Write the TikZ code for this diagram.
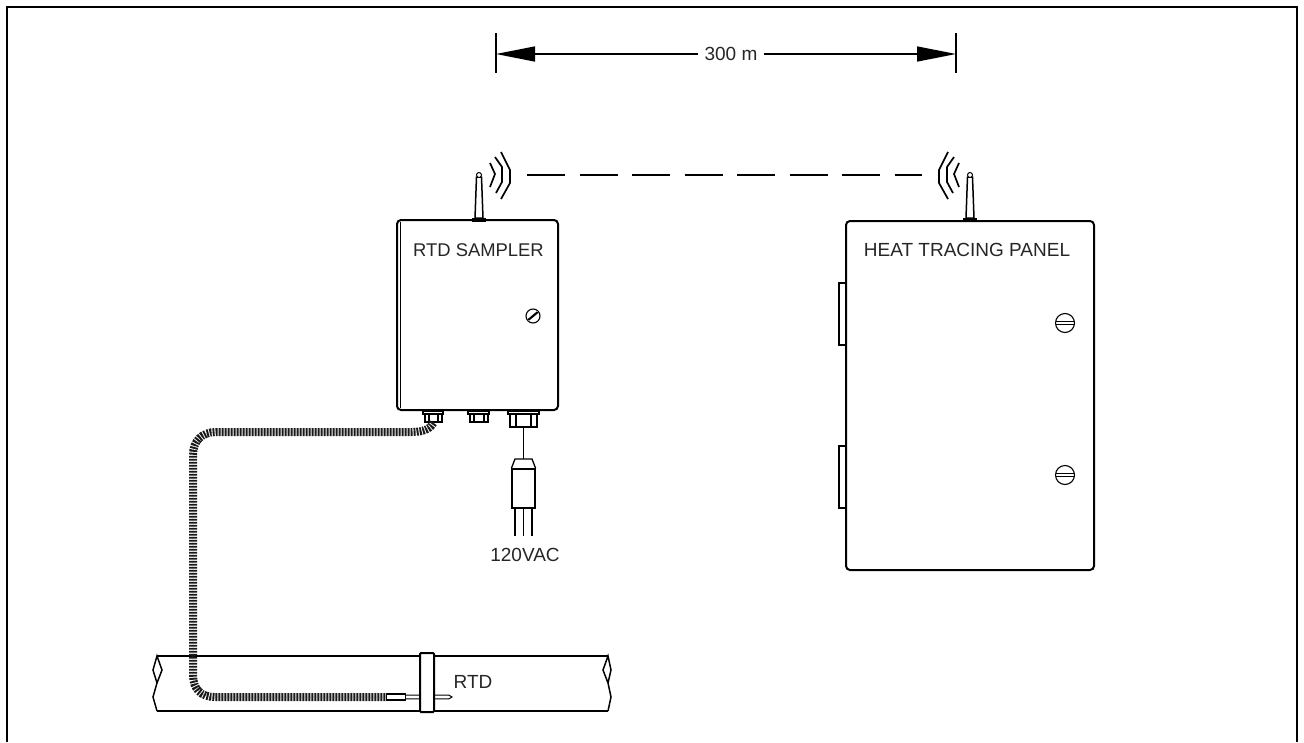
\documentclass[tikz,border=0pt]{standalone}
\usepackage{fontspec}
\setmainfont{Liberation Sans}
\usetikzlibrary{arrows.meta,positioning,calc}
\tikzset{
  box/.style={draw,line width=2pt,rounded corners=4pt,inner sep=0pt,fill=white},
  lbl/.style={font=\fontsize{19}{22}\selectfont,inner sep=0pt,text=black!85},
  gland/.style={draw,line width=1.7pt,inner sep=0pt,fill=white},
  hinge/.style={draw,line width=1.7pt,inner sep=0pt,fill=white,minimum width=7,minimum height=62},
  screw/.style={draw,circle,line width=1.1pt,inner sep=0pt,fill=white},
  arr/.style={line width=1.6pt,{Triangle[length=39pt,width=15pt]}-},
  tick/.style={line width=1.3pt},
  wave/.style={line width=1.7pt},
  link/.style={line width=1.8pt,dash pattern=on 38pt off 14.5pt},
  wire/.style={line width=1.8pt},
  conduit/.style={line width=8pt,black!90,dash pattern=on 1.9pt off 1.1pt,preaction={draw,solid,black!35}}
}
\begin{document}
\begin{tikzpicture}[x=1pt,y=-1pt]
\useasboundingbox (0,0) rectangle (1304,742);
\draw[line width=2.2pt] (7,742)--(7,7)--(1297,7)--(1297,742);
% pipe
\draw[line width=1.8pt] (157,656)--(608,656) (157,711)--(608,711);
\draw[line width=1.5pt] (157,656)--(162,670)--(157,683)--(153,670)--cycle (157,683)--(153,697)--(157,711);
\draw[line width=1.5pt] (608,656)--(603,670)--(608,683)--(611,670)--cycle (608,683)--(611,697)--(608,711);
% boxes
\node[hinge] (hingeA) at (842.5,314) {};
\node[hinge] (hingeB) at (842.5,477) {};
\node[box,minimum width=248,minimum height=349] (panel) at (970,395.5) {};
\node[box,minimum width=161,minimum height=190] (sampler) at (477.5,315) {};
\draw[line width=1.3pt] (400.5,222)--(400.5,408);
\node[lbl,font=\fontsize{18.4}{22}\selectfont] (samplertxt) at (478.5,250) {RTD SAMPLER};
\node[lbl] (paneltxt) at (967,250) {HEAT TRACING PANEL};
\node[screw,minimum size=14] (knob) at (533,316) {};
\draw[line width=1.1pt] ($(knob)+(-4,4)$)--($(knob)+(5,-3.5)$) ($(knob)+(-5,3.5)$)--($(knob)+(4,-4)$);
\foreach \n/\y in {screwA/323,screwB/475}{
  \node[screw,minimum size=19] (\n) at (1065,\y) {};
  \draw[line width=1.1pt] ($(\n)+(-9,-1.7)$)--($(\n)+(9,-1.7)$) ($(\n)+(-9,1.7)$)--($(\n)+(9,1.7)$);
}
% antennas
\foreach \n/\x in {antL/479,antR/970}{
  \node[draw,fill=black,minimum width=13,minimum height=3,inner sep=0pt] (\n) at (\x,219.5) {};
  \draw[line width=1.5pt,fill=white] (\x-2.5,177)--(\x+2.5,177)--(\x+4,218)--(\x-4,218)--cycle;
  \node[draw,circle,fill=white,line width=1pt,minimum size=5,inner sep=0pt] at (\x,175) {};
}
\draw[wave] (490,163)--(495,174)--(490,187) (495,157)--(502,167)--(502,182)--(496,193) (501,152)--(510,170)--(510,183)--(501,199);
\draw[wave] (959,163)--(954,174)--(959,187) (954,157)--(947,167)--(947,182)--(953,193) (948,152)--(939,170)--(939,183)--(948,199);
\coordinate (linkL) at (527,175);
\coordinate (linkR) at (922,175);
\draw[link] (linkL)--(linkR);
% dimension
\node[lbl,inner sep=6pt] (dist) at (731,54) {300 m};
\coordinate (dimL) at (496,54);
\coordinate (dimR) at (956,54);
\draw[tick] (496,33)--(496,73) (956,33)--(956,73);
\draw[arr] (dimL)--(dist);
\draw[arr] (dimR)--(dist);
% glands
\node[gland,minimum width=17,minimum height=9] (glandA) at (433.5,417.5) {};
\node[gland,minimum width=20,minimum height=3] at (433,412.5) {};
\draw[line width=1.3pt] (429,414)--(429,422) (438,414)--(438,422);
\node[gland,minimum width=18,minimum height=9] (glandB) at (479,417.5) {};
\node[gland,minimum width=21,minimum height=3] at (478.5,412.5) {};
\draw[line width=1.3pt] (474,414)--(474,422) (484,414)--(484,422);
\node[gland,minimum width=27,minimum height=13] (glandC) at (523.5,420.5) {};
\node[gland,minimum width=31,minimum height=3] at (523.5,412.5) {};
\draw[line width=1.3pt] (516,414)--(516,427) (531,414)--(531,427);
% plug
\node[draw,line width=1.3pt,inner sep=0pt,minimum width=23,minimum height=39] (plug) at (523.5,488.5) {};
\coordinate (plugtop) at (523.5,459);
\draw[line width=1.3pt] (plug.north west)--(515,459)--(532,459)--(plug.north east);
\draw[wire] (glandC.south)--(plugtop);
\foreach \x in {515,523.5,532}{\draw[wire] (\x,508)--(\x,536);}
\node[lbl] (vac) at (525,555) {120VAC};
% probe and clamp
\node[draw,line width=1.2pt,inner sep=0pt,fill=white,minimum width=19,minimum height=6] (probe) at (396,697) {};
\draw[line width=1pt] ($(probe.east)+(0,-1.8)$)--(449,695.2)--(452,697)--(449,698.8)--($(probe.east)+(0,1.8)$);
\node[draw,line width=2pt,rounded corners=1pt,inner sep=0pt,fill=white,minimum width=14,minimum height=59] (clamp) at (427,682.5) {};
\node[lbl] (rtd) at (473,682) {RTD};
% conduit
\draw[conduit] (glandA.south) .. controls (431,428) and (424,432) .. (412,432) -- (216,432) .. controls (202,432) and (193,441) .. (193,455) -- (193,675) .. controls (193,689) and (201,697) .. (215,697) -- (probe.west);
\end{tikzpicture}
\end{document}
